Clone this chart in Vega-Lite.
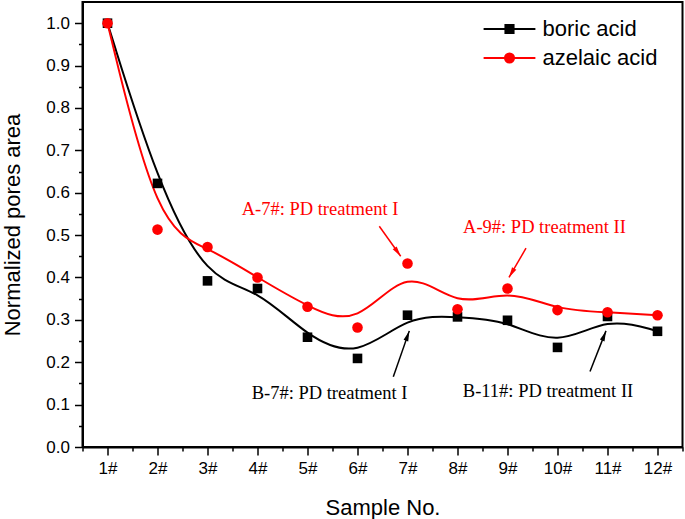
{
  "$schema": "https://vega.github.io/schema/vega-lite/v6.json",
  "width": 600,
  "height": 445,
  "autosize": {"type": "none"},
  "padding": {"left": 82.5, "top": 2, "right": 2.5, "bottom": 72},
  "background": "white",
  "config": {
    "view": {"stroke": "black", "strokeWidth": 2},
    "axis": {
      "grid": false,
      "labelFont": "Liberation Sans",
      "labelFontSize": 17,
      "labelColor": "black",
      "titleFont": "Liberation Sans",
      "titleFontSize": 22,
      "titleFontWeight": "normal",
      "titleColor": "black",
      "domainColor": "black",
      "domainWidth": 2,
      "tickColor": "black",
      "tickWidth": 1.5,
      "labelOverlap": false,
      "labelFlush": false
    },
    "legend": {
      "labelFont": "Liberation Sans",
      "labelFontSize": 22,
      "labelColor": "black",
      "padding": 0
    }
  },
  "datasets": {
    "points": [
      {"series": "boric acid", "sample": 1, "area": 1.0},
      {"series": "boric acid", "sample": 2, "area": 0.622},
      {"series": "boric acid", "sample": 3, "area": 0.392},
      {"series": "boric acid", "sample": 4, "area": 0.374},
      {"series": "boric acid", "sample": 5, "area": 0.259},
      {"series": "boric acid", "sample": 6, "area": 0.209},
      {"series": "boric acid", "sample": 7, "area": 0.311},
      {"series": "boric acid", "sample": 8, "area": 0.307},
      {"series": "boric acid", "sample": 9, "area": 0.299},
      {"series": "boric acid", "sample": 10, "area": 0.235},
      {"series": "boric acid", "sample": 11, "area": 0.308},
      {"series": "boric acid", "sample": 12, "area": 0.273},
      {"series": "azelaic acid", "sample": 1, "area": 1.0},
      {"series": "azelaic acid", "sample": 2, "area": 0.513},
      {"series": "azelaic acid", "sample": 3, "area": 0.472},
      {"series": "azelaic acid", "sample": 4, "area": 0.4},
      {"series": "azelaic acid", "sample": 5, "area": 0.331},
      {"series": "azelaic acid", "sample": 6, "area": 0.282},
      {"series": "azelaic acid", "sample": 7, "area": 0.433},
      {"series": "azelaic acid", "sample": 8, "area": 0.325},
      {"series": "azelaic acid", "sample": 9, "area": 0.374},
      {"series": "azelaic acid", "sample": 10, "area": 0.323},
      {"series": "azelaic acid", "sample": 11, "area": 0.318},
      {"series": "azelaic acid", "sample": 12, "area": 0.311}
    ],
    "notes": [
      {"series": "azelaic acid", "sample": 5.25, "area": 0.561, "text": "A-7#: PD treatment I"},
      {"series": "azelaic acid", "sample": 9.74, "area": 0.52, "text": "A-9#: PD treatment II"},
      {"series": "boric acid", "sample": 5.44, "area": 0.127, "text": "B-7#: PD treatment I"},
      {"series": "boric acid", "sample": 9.81, "area": 0.132, "text": "B-11#: PD treatment II"}
    ],
    "arrows": [
      {"series": "azelaic acid", "sample": 6.864, "area": 0.45, "sample2": 6.436, "area2": 0.521},
      {"series": "azelaic acid", "sample": 9.03, "area": 0.4, "sample2": 9.37, "area2": 0.469},
      {"series": "boric acid", "sample": 7.036, "area": 0.274, "sample2": 6.716, "area2": 0.166},
      {"series": "boric acid", "sample": 10.97, "area": 0.274, "sample2": 10.65, "area2": 0.178}
    ]
  },
  "encoding": {
    "x": {
      "field": "sample",
      "type": "quantitative",
      "scale": {"domain": [0.5, 12.5], "nice": false, "zero": false},
      "axis": {
        "title": "Sample No.",
        "values": [0.5, 1, 1.5, 2, 2.5, 3, 3.5, 4, 4.5, 5, 5.5, 6, 6.5, 7, 7.5, 8, 8.5, 9, 9.5, 10, 10.5, 11, 11.5, 12, 12.5],
        "labelExpr": "datum.value % 1 != 0 ? '' : format(datum.value, 'd') + '#'",
        "tickSize": {"condition": {"test": "datum.value % 1 != 0", "value": 4}, "value": 8},
        "labelPadding": 5,
        "titlePadding": 21
      }
    },
    "y": {
      "field": "area",
      "type": "quantitative",
      "scale": {"domain": [0, 1.05], "nice": false, "zero": true},
      "axis": {
        "title": "Normalized pores area",
        "values": [0, 0.05, 0.1, 0.15, 0.2, 0.25, 0.3, 0.35, 0.4, 0.45, 0.5, 0.55, 0.6, 0.65, 0.7, 0.75, 0.8, 0.85, 0.9, 0.95, 1.0],
        "labelExpr": "abs(datum.value*10 - round(datum.value*10)) > 0.01 ? '' : format(datum.value, '.1f')",
        "tickSize": {"condition": {"test": "abs(datum.value*10 - round(datum.value*10)) > 0.01", "value": 4}, "value": 8},
        "labelPadding": 5,
        "titlePadding": 21
      }
    },
    "color": {
      "field": "series",
      "type": "nominal",
      "scale": {"domain": ["boric acid", "azelaic acid"], "range": ["black", "#ff0000"]}
    }
  },
  "layer": [
    {
      "data": {"name": "points"},
      "mark": {"type": "line", "interpolate": "basis", "strokeWidth": 2}
    },
    {
      "data": {"name": "points"},
      "mark": {
        "type": "point",
        "filled": true,
        "opacity": 1,
        "shape": {"expr": "datum.series === 'boric acid' ? 'square' : 'circle'"},
        "size": {"expr": "datum.series === 'boric acid' ? 92 : 112"}
      }
    },
    {
      "data": {"name": "points"},
      "transform": [{"filter": "false"}],
      "mark": {"type": "point", "filled": true, "opacity": 1, "strokeWidth": 2},
      "encoding": {
        "shape": {
          "field": "series",
          "type": "nominal",
          "scale": {
            "domain": ["boric acid", "azelaic acid"],
            "range": [
              "M-3.7,0H3.7M-0.58,-0.58H0.58V0.58H-0.58Z",
              "M-3.7,0H3.7M0.65,0A0.65,0.65 0 1,1 -0.65,0A0.65,0.65 0 1,1 0.65,0Z"
            ]
          },
          "legend": {
            "title": null,
            "orient": "none",
            "legendX": 416,
            "legendY": 16,
            "direction": "vertical",
            "symbolSize": 196,
            "symbolStrokeWidth": 2,
            "labelOffset": 22,
            "rowPadding": 7
          }
        },
        "stroke": {
          "field": "series",
          "type": "nominal",
          "scale": {"domain": ["boric acid", "azelaic acid"], "range": ["black", "#ff0000"]}
        }
      }
    },
    {
      "data": {"name": "arrows"},
      "mark": {"type": "rule", "strokeWidth": 1.5},
      "encoding": {
        "x2": {"field": "sample2"},
        "y2": {"field": "area2"}
      }
    },
    {
      "data": {"name": "arrows"},
      "mark": {
        "type": "point",
        "filled": true,
        "opacity": 1,
        "size": 81,
        "shape": "M0,0L-0.55,2.3L0.55,2.3Z",
        "angle": {"expr": "atan2(scale('y', datum.area) - scale('y', datum.area2), scale('x', datum.sample) - scale('x', datum.sample2)) * 180 / PI + 90"}
      }
    },
    {
      "data": {"name": "notes"},
      "mark": {"type": "text", "font": "Liberation Serif", "fontSize": 18.5, "align": "center", "baseline": "middle"},
      "encoding": {
        "text": {"field": "text"}
      }
    }
  ]
}
